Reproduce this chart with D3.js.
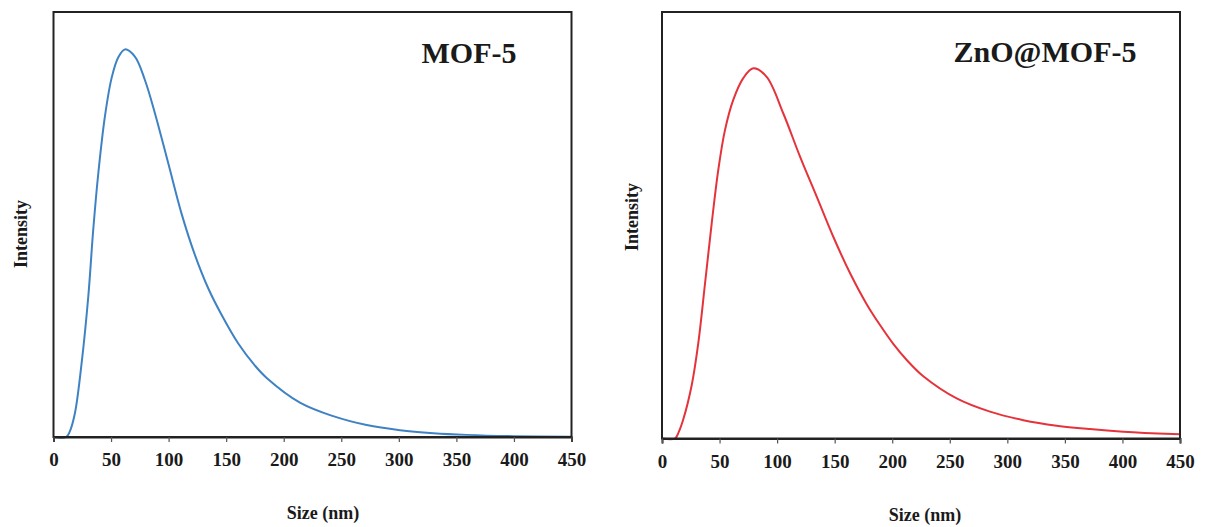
<!DOCTYPE html>
<html>
<head>
<meta charset="utf-8">
<script src="https://cdn.jsdelivr.net/npm/d3@7"></script>
<style>
  html, body { margin: 0; padding: 0; background: #fff; }
  svg { display: block; }
  text { font-family: "Liberation Serif", "Times New Roman", serif; font-weight: bold; fill: #1a1a1a; }
</style>
</head>
<body>
<svg id="chart" width="1206" height="527"></svg>
<script>
// ---- Data ----
const xTicks = [0, 50, 100, 150, 200, 250, 300, 350, 400, 450];
const xLabel = "Size (nm)";
const yLabel = "Intensity";

const mofTitle = "MOF-5";
const mofSize = [0, 11, 14, 18.6, 24.4, 30.2, 34.5, 38.9, 44.7, 50.5, 56.2, 62, 70.7, 79.4, 88.1, 99.7, 111.3, 122.9, 134.4, 146.1, 160.5, 175, 185.2, 214.1, 243, 272.1, 301, 330, 359, 400, 450];
const mofIntensity = [0, 0, 1.2, 5.6, 17.3, 33, 48.7, 62, 75.5, 84.5, 89.3, 91.2, 89.5, 84, 76.2, 64.4, 52.5, 42.8, 35.0, 28.7, 22.0, 16.8, 13.9, 8.1, 4.9, 2.8, 1.6, 0.9, 0.5, 0.2, 0.05];

const znoTitle = "ZnO@MOF-5";
const znoSize = [0, 11.3, 14.5, 18.5, 25.8, 31.5, 37.4, 43.2, 48.9, 54.7, 61.9, 70.6, 79.3, 90.9, 105.4, 119.9, 134.4, 148.8, 163.3, 177.8, 189.4, 200.9, 213, 227, 256, 284.9, 313.9, 342.9, 371.8, 400.8, 444, 450];
const znoIntensity = [0, 0, 1.5, 4.5, 12.5, 22.3, 36.4, 50.5, 63, 72.3, 79.4, 84.5, 86.8, 84.8, 76.2, 66.1, 56.7, 47.3, 38.8, 31.5, 26.6, 22.2, 18.3, 14.6, 9.4, 6.3, 4.3, 3.0, 2.2, 1.6, 1.05, 1.0];

// ---- Layout ----
const svg = d3.select("#chart");

const panels = [
  { title: mofTitle, xs: mofSize, ys: mofIntensity, color: "#3f82c4",
    left: 53.5, right: 571.5, top: 12, bottom: 437,
    titleX: 469, titleY: 63, xLabX: 323, xLabY: 519, yLabX: 21, yLabY: 234 },
  { title: znoTitle, xs: znoSize, ys: znoIntensity, color: "#e5333b",
    left: 662, right: 1180, top: 12, bottom: 438.5,
    titleX: 1045, titleY: 62, xLabX: 925, xLabY: 521, yLabX: 632, yLabY: 217 }
];

panels.forEach(p => {
  const x = d3.scaleLinear().domain([0, 450]).range([p.left, p.right]);
  const y = d3.scaleLinear().domain([0, 100]).range([p.bottom, p.top]);
  const g = svg.append("g");

  // curve
  const pts = p.xs.map((v, i) => [v, p.ys[i]]);
  g.append("path")
    .datum(pts)
    .attr("fill", "none")
    .attr("stroke", p.color)
    .attr("stroke-width", 2)
    .attr("d", d3.line().x(d => x(d[0])).y(d => y(d[1])).curve(d3.curveCatmullRom.alpha(0.5)));

  // frame
  g.append("rect")
    .attr("x", p.left).attr("y", p.top)
    .attr("width", p.right - p.left).attr("height", p.bottom - p.top)
    .attr("fill", "none").attr("stroke", "#222").attr("stroke-width", 2);

  // x axis
  const ax = g.append("g")
    .attr("transform", `translate(0,${p.bottom})`)
    .call(d3.axisBottom(x).tickValues(xTicks).tickSize(5).tickPadding(11).tickFormat(d3.format("d")));
  ax.select(".domain").attr("stroke", "#222").attr("stroke-width", 2);
  ax.selectAll(".tick line").attr("stroke", "#555").attr("stroke-width", 1.2);
  ax.selectAll(".tick text")
    .style("font-family", "'Liberation Serif', 'Times New Roman', serif")
    .style("font-weight", "bold")
    .style("font-size", "19px")
    .attr("fill", "#1a1a1a");

  // title
  g.append("text")
    .attr("x", p.titleX).attr("y", p.titleY)
    .attr("text-anchor", "middle")
    .style("font-size", "30px")
    .text(p.title);

  // x label
  g.append("text")
    .attr("x", p.xLabX).attr("y", p.xLabY)
    .attr("text-anchor", "middle")
    .style("font-size", "18px")
    .text(xLabel);

  // y label
  g.append("text")
    .attr("transform", `translate(${p.yLabX + 6},${p.yLabY}) rotate(-90)`)
    .attr("text-anchor", "middle")
    .style("font-size", "18px")
    .text(yLabel);
});
</script>
</body>
</html>
